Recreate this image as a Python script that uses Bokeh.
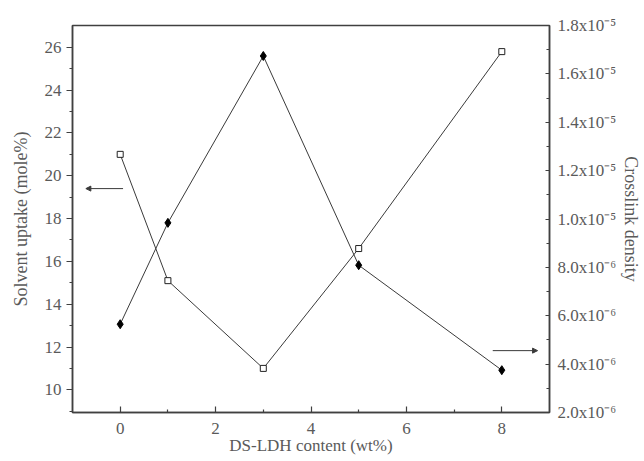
from bokeh.plotting import figure
from bokeh.models import (Range1d, LinearAxis, FixedTicker, Arrow, NormalHead,
                          ColumnDataSource, CustomJSTickFormatter)
from bokeh.embed import file_html
from bokeh.resources import INLINE

# ---- data ----
content = [0, 1, 3, 5, 8]
solvent_uptake = [21.0, 15.1, 11.0, 16.6, 25.8]
crosslink_density = [5.65e-6, 9.84e-6, 1.674e-5, 8.09e-6, 3.75e-6]

x_ticks = [0, 2, 4, 6, 8]
x_minor = [1, 3, 5, 7]
left_ticks = [10, 12, 14, 16, 18, 20, 22, 24, 26]
left_minor = [9, 11, 13, 15, 17, 19, 21, 23, 25]
right_ticks = [2e-6, 4e-6, 6e-6, 8e-6, 1.0e-5, 1.2e-5, 1.4e-5, 1.6e-5, 1.8e-5]
right_minor = [3e-6, 5e-6, 7e-6, 9e-6, 1.1e-5, 1.3e-5, 1.5e-5, 1.7e-5]
right_tick_labels = ["2.0x10\u207b\u2076", "4.0x10\u207b\u2076", "6.0x10\u207b\u2076",
                     "8.0x10\u207b\u2076", "1.0x10\u207b\u2075", "1.2x10\u207b\u2075",
                     "1.4x10\u207b\u2075", "1.6x10\u207b\u2075", "1.8x10\u207b\u2075"]

x_title = "DS-LDH content (wt%)"
left_title = "Solvent uptake (mole%)"
right_title = "Crosslink density"

# annotation arrows (left-axis units)
left_arrow = dict(x0=0.06, x1=-0.72, y=19.4)
right_arrow = dict(x0=7.81, x1=8.75, y=11.83)

FONT = "Liberation Serif"
TXT = "#5a5a5a"
AX = "#404040"
LINE = "#3a3a3a"

p = figure(width=644, height=461, output_backend="svg", toolbar_location=None,
           x_range=Range1d(-1, 9), y_range=Range1d(8.94, 27.02),
           min_border_left=72, min_border_right=95, min_border_top=25,
           min_border_bottom=49)
p.extra_y_ranges = {"right": Range1d(2e-6, 1.8e-5)}
p.xgrid.visible = False
p.ygrid.visible = False
p.outline_line_color = AX
p.outline_line_width = 1.5
p.background_fill_color = "white"
p.border_fill_color = "white"

# bottom axis
xa = p.xaxis[0]
xa.ticker = FixedTicker(ticks=x_ticks, minor_ticks=x_minor)
xa.major_tick_in = 6
xa.major_tick_out = 0
xa.minor_tick_in = 3
xa.minor_tick_out = 0
xa.axis_label = x_title
xa.major_label_standoff = 10
xa.axis_label_standoff = -1

# left axis
ya = p.yaxis[0]
ya.ticker = FixedTicker(ticks=left_ticks, minor_ticks=left_minor)
ya.major_tick_in = 0
ya.major_tick_out = 6
ya.minor_tick_in = 0
ya.minor_tick_out = 3
ya.axis_label = left_title
ya.major_label_standoff = 5
ya.axis_label_standoff = 11

# right axis
ra = LinearAxis(y_range_name="right")
ra.ticker = FixedTicker(ticks=right_ticks, minor_ticks=right_minor)
ra.formatter = CustomJSTickFormatter(args=dict(tv=right_ticks, tl=right_tick_labels), code="""
    let best = 0;
    for (let i = 0; i < tv.length; i++) {
        if (Math.abs(tv[i] - tick) < Math.abs(tv[best] - tick)) best = i;
    }
    return tl[best];
""")
ra.major_tick_in = 4
ra.major_tick_out = 0
ra.minor_tick_in = 3
ra.minor_tick_out = 0
ra.axis_label = right_title
ra.major_label_standoff = 8
ra.axis_label_standoff = 2
p.add_layout(ra, "right")

for ax in [xa, ya, ra]:
    ax.axis_line_color = AX
    ax.axis_line_width = 1.5
    ax.major_tick_line_color = AX
    ax.minor_tick_line_color = AX
    ax.major_tick_line_width = 1.2
    ax.minor_tick_line_width = 1.2
    ax.major_label_text_font = FONT
    ax.major_label_text_color = TXT
    ax.major_label_text_font_size = "17px"
    ax.axis_label_text_font = FONT
    ax.axis_label_text_color = TXT
    ax.axis_label_text_font_style = "normal"
    ax.axis_label_text_font_size = "18px"
xa.axis_label_text_font_size = "17px"

src_s = ColumnDataSource(dict(x=content, y=solvent_uptake))
src_c = ColumnDataSource(dict(x=content, y=crosslink_density))

p.line("x", "y", source=src_s, line_color=LINE, line_width=1)
p.line("x", "y", source=src_c, line_color=LINE, line_width=1, y_range_name="right")
p.scatter("x", "y", source=src_s, marker="square", size=6, fill_color="white",
          line_color="#222", line_width=1)
p.scatter("x", "y", source=src_c, marker="diamond", size=9, fill_color="black",
          line_color="black", y_range_name="right")

for a in (left_arrow, right_arrow):
    p.add_layout(Arrow(end=NormalHead(size=5, fill_color=LINE, line_color=LINE),
                       x_start=a["x0"], y_start=a["y"], x_end=a["x1"], y_end=a["y"],
                       line_color=LINE, line_width=1))

open("out.html", "w").write(file_html(p, INLINE))
